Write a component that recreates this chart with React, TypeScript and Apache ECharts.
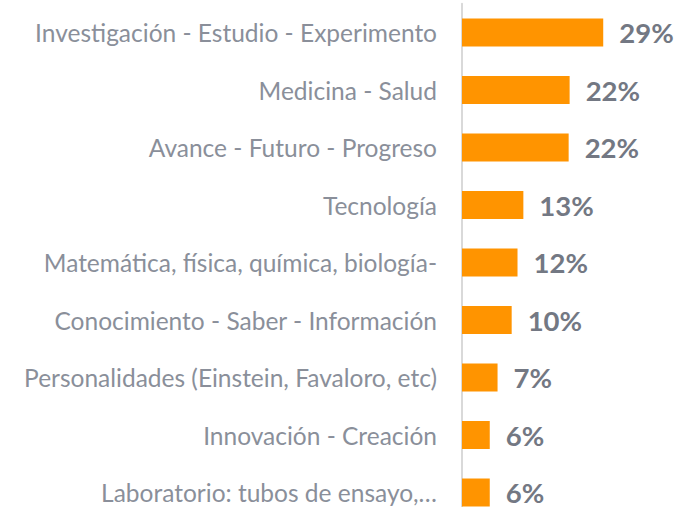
import React, { useEffect, useRef } from "react";
import * as echarts from "echarts";

const categories = [
  "Investigación - Estudio - Experimento",
  "Medicina - Salud",
  "Avance - Futuro - Progreso",
  "Tecnología",
  "Matemática, física, química, biología-",
  "Conocimiento - Saber - Información",
  "Personalidades (Einstein, Favaloro, etc)",
  "Innovación - Creación",
  "Laboratorio: tubos de ensayo,…",
];
const values = [29.0, 22.1, 21.9, 12.6, 11.4, 10.2, 7.3, 5.7, 5.7];
const valueLabels = ["29%", "22%", "22%", "13%", "12%", "10%", "7%", "6%", "6%"];

export default function App() {
  const ref = useRef<HTMLDivElement>(null);
  useEffect(() => {
    document.body.style.margin = "0";
    const chart = echarts.init(ref.current!, null, { renderer: "svg" });
    chart.setOption({
      animation: false,
      grid: {
        left: 462,
        top: 3.75,
        width: 194.8,
        height: 517.5,
        containLabel: false,
        outerBoundsMode: "none",
      },
      xAxis: {
        type: "value",
        min: 0,
        max: 40,
        show: false,
      },
      yAxis: {
        type: "category",
        data: categories,
        inverse: true,
        axisLine: { show: true, lineStyle: { color: "#d9d9d9", width: 2 } },
        axisTick: { show: false },
        axisLabel: {
          margin: 25,
          color: "#8a8f9a",
          fontFamily: "Lato",
          fontSize: 24.5,
        },
      },
      series: [
        {
          type: "bar",
          data: values,
          barWidth: 28,
          itemStyle: { color: "#FF9400" },
          label: {
            show: true,
            position: "right",
            distance: 16,
            color: "#737883",
            fontFamily: "Lato",
            fontWeight: "bold",
            fontSize: 27.5,
            formatter: (p: any) => valueLabels[p.dataIndex],
          },
        },
      ],
    });
    return () => chart.dispose();
  }, []);
  return <div ref={ref} style={{ width: 679, height: 507 }} />;
}
